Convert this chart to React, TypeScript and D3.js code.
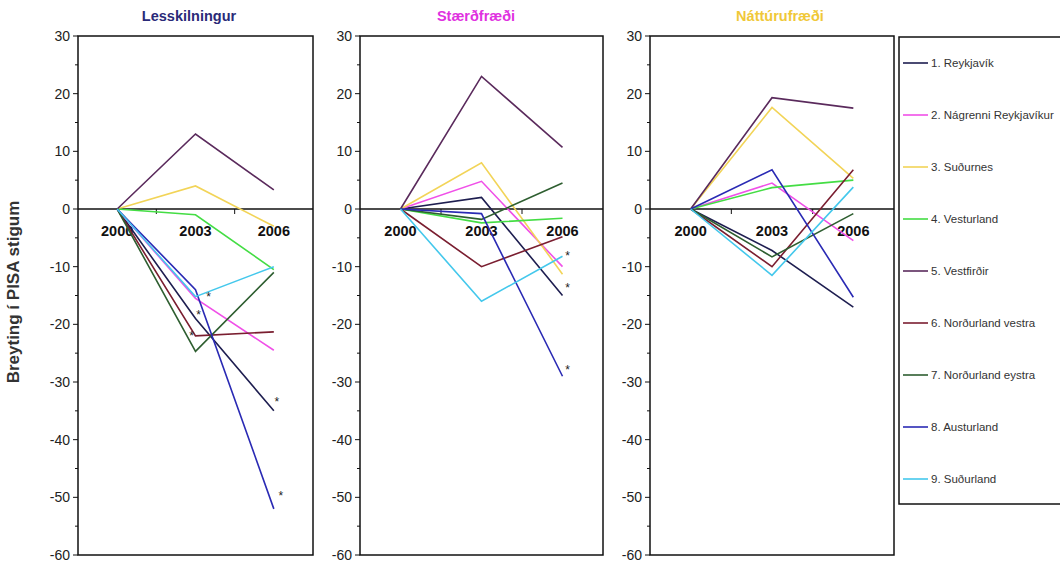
import React from "react";
import * as d3 from "d3";

const years = ["2000", "2003", "2006"];
const regions = [
  "1. Reykjavík",
  "2. Nágrenni Reykjavíkur",
  "3. Suðurnes",
  "4. Vesturland",
  "5. Vestfirðir",
  "6. Norðurland vestra",
  "7. Norðurland eystra",
  "8. Austurland",
  "9. Suðurland",
];
const subjects = ["Lesskilningur", "Stærðfræði", "Náttúrufræði"];

// values per region for [2000, 2003, 2006]
const lesskilningur = [
  [0, -19, -35],
  [0, -15.5, -24.5],
  [0, 4, -3],
  [0, -1, -10.5],
  [0, 13, 3.3],
  [0, -22, -21.3],
  [0, -24.7, -11],
  [0, -14, -52],
  [0, -15.2, -10],
];
const staerdfraedi = [
  [0, 2, -15],
  [0, 4.8, -10],
  [0, 8, -11.3],
  [0, -2.4, -1.6],
  [0, 23, 10.7],
  [0, -10, -4.8],
  [0, -1.8, 4.5],
  [0, -0.8, -29],
  [0, -16, -8.2],
];
const natturufraedi = [
  [0, -7.2, -17],
  [0, 4.5, -5.5],
  [0, 17.6, 5.3],
  [0, 3.7, 5],
  [0, 19.3, 17.5],
  [0, -10, 6.8],
  [0, -8.3, -0.8],
  [0, 6.8, -15.3],
  [0, -11.5, 3.8],
];
const yTicks = [30, 20, 10, 0, -10, -20, -30, -40, -50, -60];
// significant changes: [panel, region index, year index]
const significant = [
  [0, 8, 1],
  [0, 0, 1],
  [0, 5, 1],
  [0, 0, 2],
  [0, 7, 2],
  [1, 8, 2],
  [1, 0, 2],
  [1, 7, 2],
];

// ---- layout & style (not data) ----
const seriesColors = [
  "#1e1e50",
  "#f050e8",
  "#f2d458",
  "#44dd44",
  "#5a2a5c",
  "#7a1e30",
  "#2e5e30",
  "#2a2ab4",
  "#44c8ec",
];
const titleColors = ["#2a2a78", "#e030e0", "#f0c838"];
const panelBoxes = [
  { left: 78, right: 313, titleX: 189 },
  { left: 360, right: 603, titleX: 476 },
  { left: 650, right: 894, titleX: 780 },
];
const plotTop = 36;
const plotBottom = 555;
const asteriskOffsets = [
  [13, 4],
  [3, 0],
  [-4, 4],
  [3, -5],
  [7, -9],
  [5, 4],
  [5, -4],
  [5, -2],
];
const FONT = "'Liberation Sans', Arial, sans-serif";

export default function App() {
  const panelData = [lesskilningur, staerdfraedi, natturufraedi];
  const y = d3.scaleLinear().domain([-60, 30]).range([plotBottom, plotTop]);
  const minorTicks = d3.range(-55, 30, 10);

  const panels = panelBoxes.map((b, pi) => {
    const x = d3.scalePoint<string>().domain(years).range([b.left, b.right]).padding(0.5);
    const step = x.step();
    const line = d3
      .line<number>()
      .x((_, i) => x(years[i]) as number)
      .y((v) => y(v));
    const boundaries = [1, 2].map((k) => b.left + k * step);
    return (
      <g key={pi}>
        <text
          x={b.titleX}
          y={21}
          textAnchor="middle"
          fontFamily={FONT}
          fontWeight="bold"
          fontSize={14.5}
          fill={titleColors[pi]}
        >
          {subjects[pi]}
        </text>
        <rect
          x={b.left}
          y={plotTop}
          width={b.right - b.left}
          height={plotBottom - plotTop}
          fill="white"
          stroke="#111"
          strokeWidth={1.5}
        />
        {yTicks.map((t) => (
          <g key={t}>
            <line x1={b.left - 5} x2={b.left} y1={y(t)} y2={y(t)} stroke="#111" strokeWidth={1} />
            <text
              x={b.left - 8}
              y={y(t)}
              dy="0.35em"
              textAnchor="end"
              fontFamily={FONT}
              fontSize={14}
              fill="#222"
            >
              {t}
            </text>
          </g>
        ))}
        {minorTicks.map((t) => (
          <line key={t} x1={b.left - 3} x2={b.left} y1={y(t)} y2={y(t)} stroke="#111" strokeWidth={1} />
        ))}
        {years.map((yr) => (
          <text
            key={yr}
            x={x(yr)}
            y={236}
            textAnchor="middle"
            fontFamily={FONT}
            fontWeight="bold"
            fontSize={14.5}
            fill="#111"
          >
            {yr}
          </text>
        ))}
        <line x1={b.left} x2={b.right} y1={y(0)} y2={y(0)} stroke="#111" strokeWidth={1.5} />
        {boundaries.map((bx, i) => (
          <line key={i} x1={bx} x2={bx} y1={y(0)} y2={y(0) + 5} stroke="#111" strokeWidth={1} />
        ))}
        {panelData[pi].map((vals, si) => (
          <path
            key={si}
            d={line(vals) || ""}
            fill="none"
            stroke={seriesColors[si]}
            strokeWidth={1.6}
            strokeLinejoin="miter"
          />
        ))}
        {significant
          .map((s, k) => ({ s, k }))
          .filter(({ s }) => s[0] === pi)
          .map(({ s, k }) => {
            const [, si, yi] = s;
            const px = x(years[yi]) as number;
            const py = y(panelData[pi][si][yi]);
            return (
              <text
                key={k}
                x={px + asteriskOffsets[k][0]}
                y={py + asteriskOffsets[k][1]}
                textAnchor="middle"
                fontFamily={FONT}
                fontSize={12}
                fill="#222"
              >
                *
              </text>
            );
          })}
      </g>
    );
  });

  const legendTop = 37;
  const legendBottom = 504;
  const legendLeft = 899;
  const legendY = d3.scalePoint<string>().domain(regions).range([63, 479]);

  return (
    <svg
      width={1060}
      height={562}
      style={{ position: "absolute", left: 0, top: 0, background: "white" }}
    >
      <rect x={0} y={0} width={1060} height={562} fill="white" />
      <text
        transform={`translate(19,${292}) rotate(-90)`}
        textAnchor="middle"
        fontFamily={FONT}
        fontWeight="bold"
        fontSize={17}
        fill="#333"
      >
        Breyting í PISA stigum
      </text>
      {panels}
      <rect
        x={legendLeft}
        y={legendTop}
        width={180}
        height={legendBottom - legendTop}
        fill="white"
        stroke="#111"
        strokeWidth={1.5}
      />
      {regions.map((r, i) => (
        <g key={r}>
          <line
            x1={903}
            x2={928}
            y1={legendY(r)}
            y2={legendY(r)}
            stroke={seriesColors[i]}
            strokeWidth={1.6}
          />
          <text x={931} y={legendY(r)} dy="0.35em" fontFamily={FONT} fontSize={11.5} fill="#333">
            {r}
          </text>
        </g>
      ))}
    </svg>
  );
}
